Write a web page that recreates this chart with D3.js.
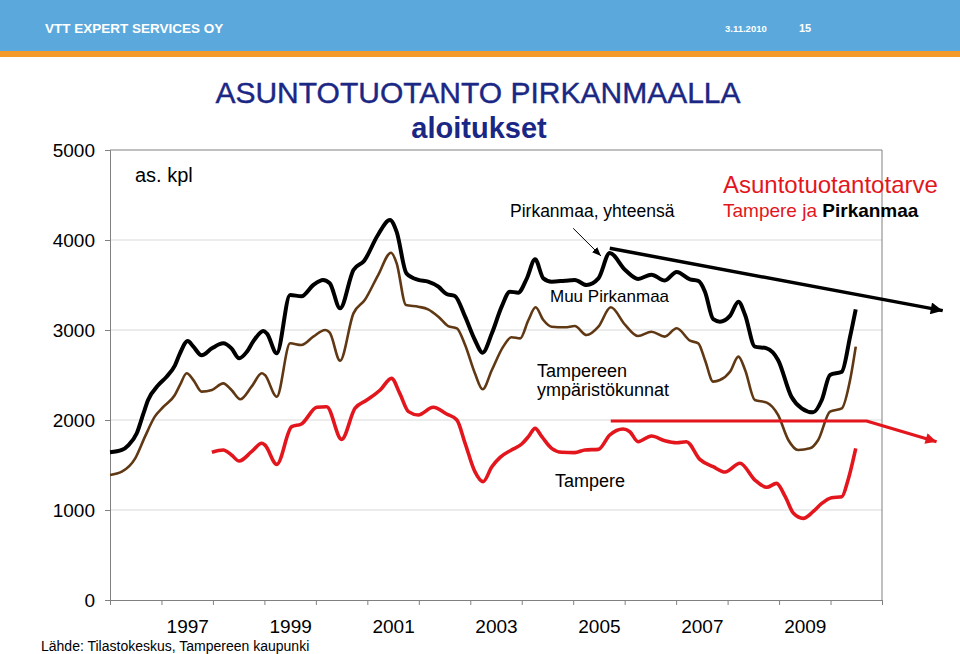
<!DOCTYPE html>
<html><head><meta charset="utf-8">
<script src="https://cdn.jsdelivr.net/npm/d3@7"></script>
<style>
body{margin:0;background:#fff}
svg{display:block}
text{font-family:"Liberation Sans",Arial,sans-serif}
</style>
</head><body>
<svg id="c" width="960" height="654"></svg>
<script>
// ---- data (12-month moving sums of housing starts, dwellings) ----
const yearTicks = [1996,1997,1998,1999,2000,2001,2002,2003,2004,2005,2006,2007,2008,2009,2010,2011];
const yearLabels = [1997,1999,2001,2003,2005,2007,2009];
const yTicks = [0,1000,2000,3000,4000,5000];

// Pirkanmaa, yhteensä (black)
const totalYears = [1996.00,1996.23,1996.36,1996.52,1996.65,1996.74,1996.94,1997.10,1997.26,1997.36,1997.51,1997.62,1997.78,1997.98,1998.20,1998.36,1998.51,1998.66,1998.78,1998.98,1999.05,1999.24,1999.50,1999.72,1999.95,2000.14,2000.27,2000.47,2000.73,2000.94,2001.20,2001.44,2001.57,2001.76,2001.99,2002.18,2002.38,2002.54,2002.70,2002.90,2003.09,2003.24,2003.42,2003.61,2003.77,2003.93,2004.10,2004.26,2004.42,2004.58,2004.84,2005.03,2005.26,2005.49,2005.71,2006.01,2006.26,2006.52,2006.78,2007.01,2007.27,2007.43,2007.56,2007.72,2007.85,2008.05,2008.21,2008.34,2008.53,2008.76,2008.98,2009.24,2009.44,2009.66,2009.83,2009.99,2010.22,2010.38,2010.49];
const totalValues = [1641,1667,1722,1852,2074,2222,2389,2481,2604,2741,2878,2815,2719,2796,2852,2796,2685,2759,2870,2989,2960,2741,3389,3375,3500,3556,3520,3241,3667,3770,4050,4222,4090,3630,3556,3537,3481,3400,3378,3148,2889,2748,2963,3259,3426,3415,3574,3785,3574,3537,3548,3556,3500,3574,3855,3667,3568,3615,3550,3645,3563,3545,3426,3120,3093,3160,3315,3167,2815,2796,2667,2259,2130,2085,2222,2500,2537,2926,3230];

// Tampere + Tampereen ympäristökunnat (brown)
const regionYears = [1996.00,1996.23,1996.49,1996.68,1996.87,1997.04,1997.26,1997.36,1997.49,1997.62,1997.78,1997.98,1998.20,1998.36,1998.53,1998.75,1998.95,1999.01,1999.24,1999.50,1999.72,1999.95,2000.18,2000.27,2000.47,2000.73,2000.95,2001.21,2001.46,2001.57,2001.75,2001.99,2002.18,2002.38,2002.57,2002.74,2002.90,2003.09,2003.24,2003.42,2003.64,2003.80,2003.97,2004.13,2004.27,2004.42,2004.58,2004.84,2005.03,2005.26,2005.49,2005.73,2006.01,2006.26,2006.52,2006.78,2007.01,2007.27,2007.43,2007.56,2007.72,2007.85,2008.05,2008.21,2008.34,2008.53,2008.76,2008.98,2009.18,2009.37,2009.60,2009.76,2009.99,2010.22,2010.38,2010.49];
const regionValues = [1389,1426,1574,1815,2037,2148,2278,2389,2519,2444,2315,2333,2407,2333,2230,2370,2519,2500,2259,2852,2833,2926,3000,2970,2659,3185,3333,3611,3859,3741,3278,3259,3230,3148,3044,3019,2833,2519,2341,2556,2815,2919,2907,3111,3252,3111,3037,3030,3044,2944,3037,3252,3056,2933,2981,2926,3019,2881,2852,2667,2426,2444,2540,2704,2556,2222,2193,2056,1778,1667,1685,1778,2093,2130,2444,2815];

// Tampere (red)
const tampereYears = [1997.98,1998.20,1998.36,1998.51,1998.75,1998.95,1999.01,1999.24,1999.53,1999.72,2000.02,2000.21,2000.50,2000.76,2000.99,2001.25,2001.47,2001.63,2001.80,2001.99,2002.28,2002.54,2002.74,2002.90,2003.09,2003.25,2003.42,2003.58,2003.80,2004.00,2004.13,2004.26,2004.39,2004.58,2004.78,2005.03,2005.23,2005.49,2005.71,2005.97,2006.10,2006.26,2006.52,2006.78,2007.01,2007.20,2007.46,2007.72,2007.95,2008.24,2008.53,2008.76,2008.95,2009.12,2009.28,2009.47,2009.66,2009.83,2010.02,2010.22,2010.34,2010.49];
const tampereValues = [1641,1667,1611,1544,1648,1741,1722,1507,1926,1956,2141,2148,1785,2130,2222,2333,2463,2296,2093,2056,2141,2067,2000,1741,1426,1315,1481,1585,1667,1733,1815,1907,1815,1685,1641,1637,1667,1674,1833,1900,1870,1759,1822,1770,1748,1759,1563,1481,1422,1519,1333,1252,1296,1148,963,907,981,1074,1137,1148,1333,1685];

// Asuntotuotantotarve (need) trend arrows
const needTotalYears = [2005.71, 2012.18];
const needTotalValues = [3908, 3215];
const needTampereYears = [2005.73, 2010.70, 2012.06];
const needTampereValues = [1989, 1989, 1759];
const pointerYears = [2005.00, 2005.54];
const pointerValues = [4130, 3822];

// ---- drawing ----
const svg = d3.select("#c");
const M = {left:110, right:882, top:150, bottom:600};
const x = d3.scaleLinear().domain([1996, 2011]).range([M.left, M.right]);
const y = d3.scaleLinear().domain([0, 5000]).range([M.bottom, M.top]);

// header
svg.append("rect").attr("x",0).attr("y",0).attr("width",960).attr("height",51).attr("fill","#5ba8dc");
svg.append("rect").attr("x",0).attr("y",51).attr("width",960).attr("height",6).attr("fill","#f39a2b");
svg.append("text").attr("x",45).attr("y",33).attr("fill","#fff").attr("font-weight","bold").attr("font-size",13.5).text("VTT EXPERT SERVICES OY");
svg.append("text").attr("x",725).attr("y",32).attr("fill","#fff").attr("font-weight","bold").attr("font-size",9.5).text("3.11.2010");
svg.append("text").attr("x",799).attr("y",32).attr("fill","#fff").attr("font-weight","bold").attr("font-size",11).text("15");

// titles
svg.append("text").attr("x",478).attr("y",103).attr("text-anchor","middle").attr("fill","#1b2785").attr("font-size",30).attr("stroke","#1b2785").attr("stroke-width",0.4).text("ASUNTOTUOTANTO PIRKANMAALLA");
svg.append("text").attr("x",479).attr("y",138).attr("text-anchor","middle").attr("fill","#1b2785").attr("font-weight","bold").attr("font-size",29).text("aloitukset");

// gridlines
svg.append("g").selectAll("line").data(yTicks.filter(d => d > 0 && d < 5000)).join("line")
  .attr("x1", M.left).attr("x2", M.right).attr("y1", d => y(d)).attr("y2", d => y(d))
  .attr("stroke", "#d9d9d9").attr("stroke-width", 1);

// plot border (top & right)
svg.append("line").attr("x1",M.left).attr("x2",M.right).attr("y1",y(5000)).attr("y2",y(5000)).attr("stroke","#808080");
svg.append("line").attr("x1",M.right).attr("x2",M.right).attr("y1",y(5000)).attr("y2",y(0)).attr("stroke","#808080");

// axes
const yAxis = svg.append("g").attr("transform",`translate(${M.left},0)`)
  .call(d3.axisLeft(y).tickValues(yTicks).tickSize(5).tickPadding(10).tickFormat(d3.format("d")));
yAxis.selectAll("text").attr("font-size",19).attr("fill","#000").attr("font-family","Liberation Sans, Arial, sans-serif");
yAxis.selectAll("line,path").attr("stroke","#808080");

const xAxis = svg.append("g").attr("transform",`translate(0,${M.bottom})`)
  .call(d3.axisBottom(x).tickValues(yearTicks).tickSize(5).tickSizeOuter(0).tickFormat(""));
xAxis.selectAll("line,path").attr("stroke","#808080");

const xLab = svg.append("g").attr("transform",`translate(0,${M.bottom})`)
  .call(d3.axisBottom(x).tickValues(yearLabels.map(d => d + 0.5)).tickSize(0).tickPadding(20).tickFormat(d => String(Math.floor(d))));
xLab.select(".domain").remove();
xLab.selectAll("text").attr("font-size",19).attr("fill","#000").attr("font-family","Liberation Sans, Arial, sans-serif");

// series lines
const line = d3.line().x(d => x(d[0])).y(d => y(d[1])).curve(d3.curveMonotoneX);
const zip = (a,b) => a.map((v,i) => [v, b[i]]);
svg.append("path").attr("d", line(zip(regionYears, regionValues))).attr("fill","none").attr("stroke","#603813").attr("stroke-width",2.6).attr("stroke-linejoin","round");
svg.append("path").attr("d", line(zip(tampereYears, tampereValues))).attr("fill","none").attr("stroke","#e3161d").attr("stroke-width",3.6).attr("stroke-linejoin","round");
svg.append("path").attr("d", line(zip(totalYears, totalValues))).attr("fill","none").attr("stroke","#000").attr("stroke-width",4).attr("stroke-linejoin","round");

// markers
const defs = svg.append("defs");
function marker(id, color, w, h) {
  defs.append("marker").attr("id", id).attr("viewBox","0 0 10 10").attr("refX",10).attr("refY",5)
    .attr("markerWidth", w).attr("markerHeight", h).attr("markerUnits","userSpaceOnUse").attr("orient","auto")
    .append("path").attr("d","M0,0 L10,5 L0,10 Z").attr("fill", color);
}
marker("ab","#000",16,12);
marker("ar","#e3161d",15,11);
defs.append("marker").attr("id","ap").attr("viewBox","0 0 10 10").attr("refX",10).attr("refY",5)
  .attr("markerWidth",9).attr("markerHeight",9).attr("markerUnits","userSpaceOnUse").attr("orient","auto")
  .append("path").attr("d","M0,1 L10,5 L0,9 Z").attr("fill","#000");

const straight = d3.line().x(d => x(d[0])).y(d => y(d[1]));
svg.append("path").attr("d", straight(zip(needTotalYears, needTotalValues))).attr("fill","none").attr("stroke","#000").attr("stroke-width",3.5).attr("marker-end","url(#ab)");
svg.append("path").attr("d", straight(zip(needTampereYears, needTampereValues))).attr("fill","none").attr("stroke","#e3161d").attr("stroke-width",3.2).attr("stroke-linejoin","round").attr("marker-end","url(#ar)");
svg.append("path").attr("d", straight(zip(pointerYears, pointerValues))).attr("fill","none").attr("stroke","#000").attr("stroke-width",1).attr("marker-end","url(#ap)");

// annotation text
const t = (tx, ty, s, size, color, weight) => svg.append("text").attr("x",tx).attr("y",ty).attr("font-size",size).attr("fill",color||"#000").attr("font-weight",weight||"normal").text(s);
t(135, 182, "as. kpl", 20);
t(510, 217, "Pirkanmaa, yhteensä", 17.5);
t(550, 302, "Muu Pirkanmaa", 17);
t(537, 377, "Tampereen", 18);
t(537, 396, "ympäristökunnat", 18);
t(555, 487, "Tampere", 18);
t(723, 193, "Asuntotuotantotarve", 24, "#e3161d");
const tt = svg.append("text").attr("x",723).attr("y",217).attr("font-size",19);
tt.append("tspan").attr("fill","#e3161d").text("Tampere ja ");
tt.append("tspan").attr("fill","#000").attr("font-weight","bold").text("Pirkanmaa");
t(41, 651, "Lähde: Tilastokeskus, Tampereen kaupunki", 14);
</script>
</body></html>
